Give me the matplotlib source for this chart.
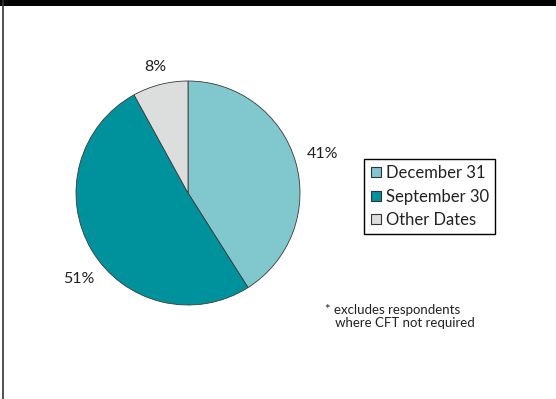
import matplotlib
matplotlib.use("Agg")
import matplotlib.pyplot as plt
from matplotlib.lines import Line2D
from matplotlib.patches import Rectangle

plt.rcParams['font.family'] = ['Lato', 'DejaVu Sans']

labels = ['December 31', 'September 30', 'Other Dates']
shares = [41, 51, 8]
colors = ['#80C8CE', '#00929C', '#DCDDDD']
pct_pos = [(323, 154), (79, 279), (155, 67)]   # label centres, px from top-left
note = '* excludes respondents\n   where CFT not required'

W, H = 556, 399
fig = plt.figure(figsize=(W / 100, H / 100), dpi=100)
ax = fig.add_axes([0, 0, 1, 1])

wedges, _ = ax.pie(shares, colors=colors, startangle=90, counterclock=False,
                   center=(188, H - 193), radius=112, frame=True,
                   wedgeprops=dict(edgecolor='#3a3a3a', linewidth=0.6))
ax.set_xlim(0, W)
ax.set_ylim(0, H)
ax.set_aspect('equal')
ax.axis('off')

for v, (x, y) in zip(shares, pct_pos):
    ax.text(x, H - y, f'{v}%', ha='center', va='center', fontsize=11.5, color='#222222')

handles = [Line2D([], [], marker='s', linestyle='none', markersize=7,
                  markerfacecolor=c, markeredgecolor='#333333', markeredgewidth=0.8)
           for c in colors]
leg = fig.legend(handles, labels, loc='lower left', bbox_to_anchor=(364 / W, (H - 234) / H),
                 borderaxespad=0, fancybox=False, framealpha=1, edgecolor='black',
                 fontsize=12, handlelength=0.7, handletextpad=0.3, labelspacing=0.45,
                 borderpad=0.35)
leg.get_frame().set_linewidth(1.0)
for t in leg.get_texts():
    t.set_color('#222222')

ax.text(325, H - 304, note, ha='left', va='top', fontsize=9.5, color='#222222',
        linespacing=1.1)

# black band across the top and thin rule down the left side
fig.patches.append(Rectangle((0, 1 - 6 / H), 1, 6 / H, transform=fig.transFigure,
                             facecolor='black', edgecolor='none'))
fig.lines.append(Line2D([2.5 / W, 2.5 / W], [0, 1], transform=fig.transFigure,
                        color='#333333', linewidth=1.2))

fig.savefig('out.png', dpi=100)
